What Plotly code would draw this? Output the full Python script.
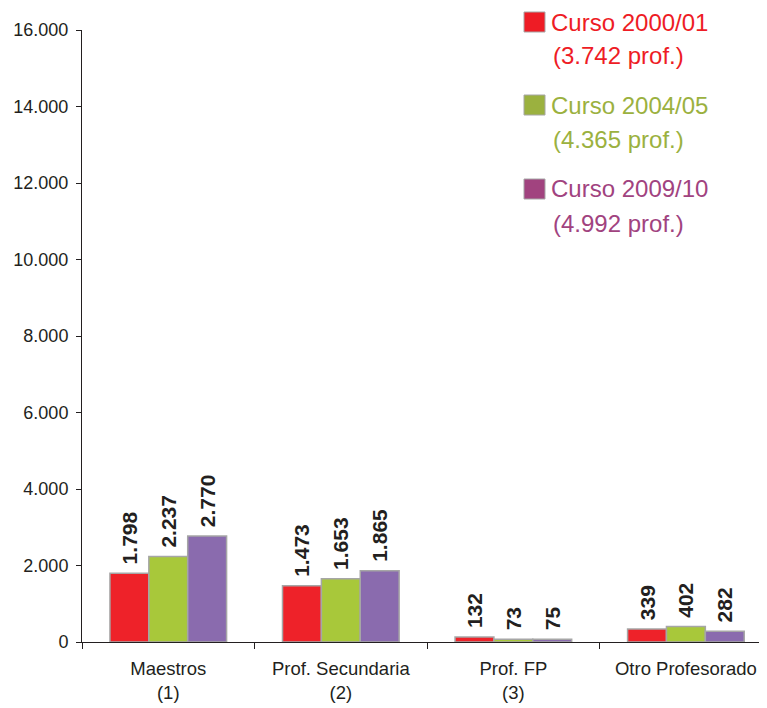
import plotly.graph_objects as go

categories = ["Maestros<br>(1)", "Prof. Secundaria<br>(2)", "Prof. FP<br>(3)", "Otro Profesorado"]
series_names = ["Curso 2000/01", "Curso 2004/05", "Curso 2009/10"]
series_totals = ["(3.742 prof.)", "(4.365 prof.)", "(4.992 prof.)"]
values_2000 = [1798, 1473, 132, 339]
values_2004 = [2237, 1653, 73, 402]
values_2009 = [2770, 1865, 75, 282]

bar_colors = ["#EE2229", "#A8C83A", "#8A6BAE"]
legend_colors = ["#EE1C25", "#9BB13F", "#A1437F"]
FONT = "Liberation Sans, Arial, sans-serif"
TXT = "#231F20"

# page body has an 8px margin; plot area target in window px: x 82..767, y 30..642
OFF = 8
fig = go.Figure()
for name, vals, col in zip(series_names, [values_2000, values_2004, values_2009], bar_colors):
    fig.add_trace(go.Bar(
        x=categories, y=vals, name=name,
        marker=dict(color=col, line=dict(color="#A6A6A6", width=1.5)),
        texttemplate="<b> %{y:,}</b>", textposition="outside", textangle=-90,
        textfont=dict(family=FONT, size=21, color=TXT),
        cliponaxis=False, showlegend=False, constraintext="none",
    ))

def px_x(p):
    return (p - 82) / 685

def px_y(p):
    return (642 - p) / 612

legend_y = [22, 105, 189]
for i, (name, tot, col) in enumerate(zip(series_names, series_totals, legend_colors)):
    yc = legend_y[i]
    fig.add_shape(type="rect", xref="paper", yref="paper",
                  x0=px_x(524), x1=px_x(545),
                  y0=px_y(yc + 10), y1=px_y(yc - 10),
                  fillcolor=col, line=dict(color="#A6A6A6", width=1))
    fig.add_annotation(xref="paper", yref="paper", x=px_x(549), y=px_y(yc),
                       text=name, showarrow=False, xanchor="left", yanchor="middle",
                       font=dict(family=FONT, size=24, color=col))
    fig.add_annotation(xref="paper", yref="paper", x=px_x(551), y=px_y(yc + 34),
                       text=tot, showarrow=False, xanchor="left", yanchor="middle",
                       font=dict(family=FONT, size=24, color=col))

fig.update_layout(
    width=767 - OFF, height=708 - OFF,
    margin=dict(l=82 - OFF, r=0, t=30 - OFF, b=66),
    paper_bgcolor="white", plot_bgcolor="white",
    barmode="group", bargap=0.324, bargroupgap=0,
    separators=",.",
    font=dict(family=FONT, size=16, color=TXT),
)
fig.update_yaxes(range=[0, 16000], dtick=2000, tickformat=",d", automargin=False,
                 showgrid=False, zeroline=False, showline=True, linecolor="#231F20", linewidth=1,
                 ticks="outside", ticklen=5, tickcolor="#231F20", ticklabelstandoff=4,
                 tickfont=dict(family=FONT, size=18, color=TXT))
fig.update_xaxes(range=[-0.5, 3.47], showgrid=False, showline=True, linecolor="#231F20", linewidth=1,
                 ticks="outside", ticklen=6, tickcolor="#231F20", tickson="boundaries", automargin=False,
                 ticklabelstandoff=10,
                 tickfont=dict(family=FONT, size=18.5, color=TXT))

fig.write_html("out.html")
